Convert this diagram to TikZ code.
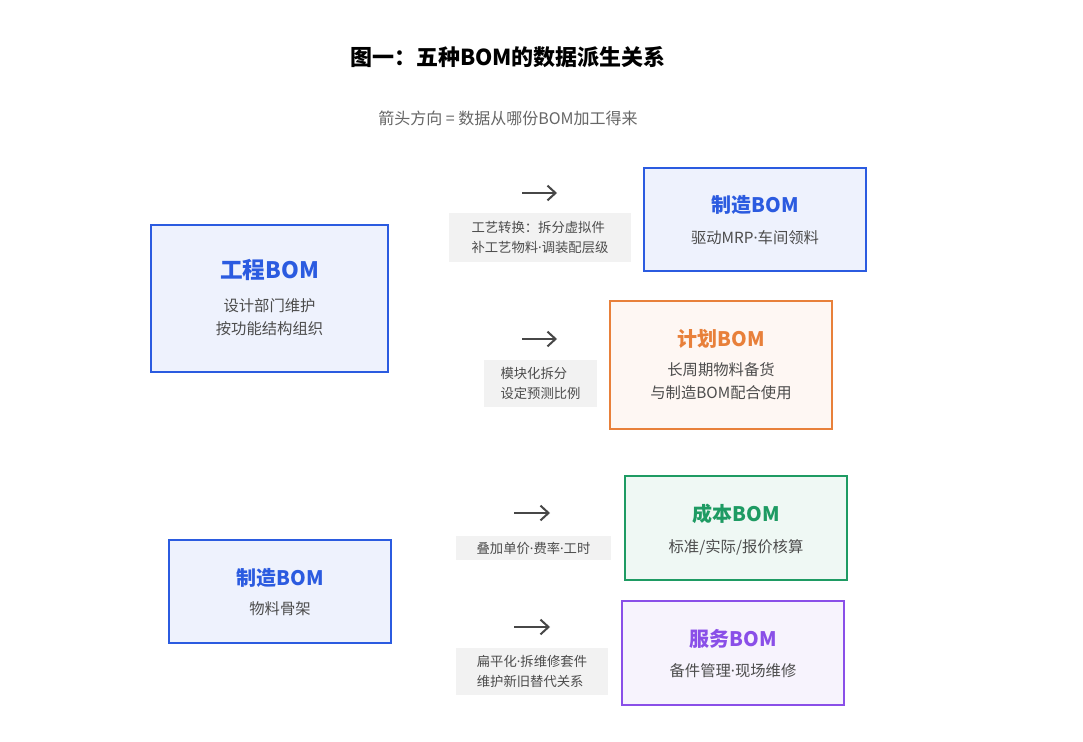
\documentclass[tikz,border=0pt]{standalone}
\usepackage{fontspec}
\setmainfont{Noto Sans CJK SC}
\newfontfamily\latinf{Noto Sans}
\newcommand{\md}{{\latinf\textperiodcentered}}
\begin{document}
\begin{tikzpicture}[x=0.75pt,y=-0.75pt,
 lab/.style={fill=gray!10,inner sep=4pt,align=left,font=\fontsize{10}{15}\selectfont,text=black!70},
 arr/.style={-{Straight Barb[length=6pt,width=11pt]},line width=1.5pt,draw=black!72},
 ttl/.style={font=\fontsize{15}{18}\selectfont\bfseries,text=#1},
 sub/.style={font=\fontsize{11.5}{17}\selectfont,text=black!70}]
\usetikzlibrary{arrows.meta}
\useasboundingbox[fill=white] (0,0) rectangle (1083,742);
\definecolor{cb}{HTML}{2B5BE0}\definecolor{co}{HTML}{E8803A}
\definecolor{cg}{HTML}{1E9B63}\definecolor{cp}{HTML}{8A4FE8}
\node[font=\fontsize{16.5}{20}\selectfont\bfseries] (t) at (508,57) {图一：五种BOM的数据派生关系};
\node[font=\fontsize{12}{14}\selectfont,text=black!60] (s) at (508,118) {箭头方向 = 数据从哪份BOM加工得来};
% boxes
\filldraw[draw=cb,fill=cb!8,line width=1.6pt] (151,225) rectangle (388,372);
\node[ttl=cb,font=\fontsize{17}{20}\selectfont\bfseries] (e1) at (269.5,270) {工程BOM};
\node[sub,align=center] (e2) at (269.5,317) {设计部门维护\\按功能结构组织};
\filldraw[draw=cb,fill=cb!8,line width=1.6pt] (644,168) rectangle (866,271);
\node[ttl=cb] (m1) at (755,205) {制造BOM};
\node[sub] (m2) at (755,238) {驱动MRP\md 车间领料};
\filldraw[draw=co,fill=co!6,line width=1.6pt] (610,301) rectangle (832,429);
\node[ttl=co] (p1) at (721,339) {计划BOM};
\node[sub,align=center] (p2) at (721,381) {长周期物料备货\\与制造BOM配合使用};
\filldraw[draw=cg,fill=cg!7,line width=1.6pt] (625,476) rectangle (847,580);
\node[ttl=cg] (c1) at (736,514) {成本BOM};
\node[sub] (c2) at (736,547) {标准/实际/报价核算};
\filldraw[draw=cp,fill=cp!7,line width=1.6pt] (622,601) rectangle (844,705);
\node[ttl=cp] (v1) at (733,639) {服务BOM};
\node[sub] (v2) at (733,671) {备件管理\md 现场维修};
\filldraw[draw=cb,fill=cb!8,line width=1.6pt] (169,540) rectangle (391,643);
\node[ttl=cb] (b1) at (280,578) {制造BOM};
\node[sub] (b2) at (280,609) {物料骨架};
% labels
\node[lab,minimum width=137pt,minimum height=37pt] (l1) at (540,237.5) {工艺转换：拆分虚拟件\\补工艺物料\md 调装配层级};
\node[lab,minimum width=85pt,minimum height=35pt] (l2) at (540.5,383.5) {模块化拆分\\设定预测比例};
\node[lab,minimum width=116pt,minimum height=18pt] (l3) at (533.5,548) {叠加单价\md 费率\md 工时};
\node[lab,minimum width=114pt,minimum height=35pt] (l4) at (532,671.5) {扁平化\md 拆维修套件\\维护新旧替代关系};
% arrows
\coordinate (a1) at (522,193);\coordinate (a1e) at (557,193);
\coordinate (a2) at (522,339);\coordinate (a2e) at (557,339);
\coordinate (a3) at (514,513);\coordinate (a3e) at (550,513);
\coordinate (a4) at (514,627);\coordinate (a4e) at (550,627);
\draw[arr] (a1)--(a1e); \draw[arr] (a2)--(a2e);
\draw[arr] (a3)--(a3e); \draw[arr] (a4)--(a4e);
\end{tikzpicture}
\end{document}
